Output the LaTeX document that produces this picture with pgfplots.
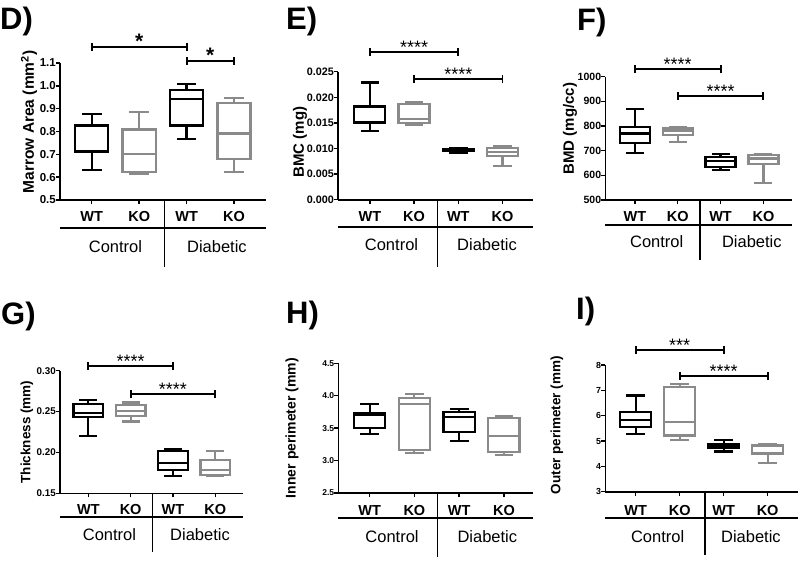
\documentclass[border=0pt]{standalone}
\usepackage{fontspec}
\setmainfont{Liberation Sans}
\usepackage{pgfplots}
\pgfplotsset{compat=1.18}
\definecolor{gbox}{RGB}{138,138,138}

\pgfplotsset{
 panel/.style={scale only axis, axis x line*=bottom, axis y line*=left,
   axis line style={line width=1.6pt, black},
   tick style={line width=1.4pt, black},
   major tick length=4pt, tick align=outside,
   xtick={0,1,2,3}, xticklabels={WT,KO,WT,KO},
   xticklabel style={font=\bfseries\fontsize{14.5}{14.5}\selectfont, anchor=center, inner sep=0pt},
   yticklabel style={anchor=east, inner sep=0pt},
   clip=false, anchor=south west},
 bx/.style={black, line width=2.2pt, line cap=rect, line join=miter, mark=none},
 bg/.style={gbox, line width=2.2pt, line cap=rect, line join=miter, mark=none},
 sb/.style={black, line width=1.9pt, mark=none},
}

% box: style, position, lower whisker, lower quartile, median, upper quartile, upper whisker
\newcommand{\bplot}[7]{%
 \pgfmathsetmacro{\bl}{#2-0.35}\pgfmathsetmacro{\br}{#2+0.35}%
 \pgfmathsetmacro{\wl}{#2-0.185}\pgfmathsetmacro{\wr}{#2+0.185}%
 \addplot[#1] coordinates {(\bl,#4) (\br,#4) (\br,#6) (\bl,#6) (\bl,#4)};
 \addplot[#1] coordinates {(\bl,#5) (\br,#5)};
 \addplot[#1] coordinates {(#2,#6) (#2,#7)};
 \addplot[#1] coordinates {(#2,#4) (#2,#3)};
 \addplot[#1] coordinates {(\wl,#7) (\wr,#7)};
 \addplot[#1] coordinates {(\wl,#3) (\wr,#3)};
}
% significance bar: x1, x2, y, cap half height (data units), label x, text, font
\newcommand{\sig}[7]{%
 \pgfmathsetmacro{\ca}{#3-#4}\pgfmathsetmacro{\cb}{#3+#4}%
 \addplot[sb] coordinates {(#1,#3) (#2,#3)};
 \addplot[sb] coordinates {(#1,\ca) (#1,\cb)};
 \addplot[sb] coordinates {(#2,\ca) (#2,\cb)};
 \node[anchor=base, inner sep=0pt, font=#7, yshift=-1.5pt] at (axis cs:#5,#3) {#6};
}
% separator, group line, group names
\newcommand{\bottom}[7]{%
 \draw[line width=1.6pt] (axis cs:#2,#1) -- ([yshift=-#5pt]axis cs:#2,#1);
 \draw[line width=1.6pt] ([yshift=-#3pt]rel axis cs:0,0) -- ([yshift=-#3pt]rel axis cs:1,0);
 \node[font=\fontsize{16.5}{16.5}\selectfont] at ([yshift=-#4pt]axis cs:#6,#1) {Control};
 \node[font=\fontsize{16.5}{16.5}\selectfont] at ([yshift=-#4pt]axis cs:#7,#1) {Diabetic};
}
\newcommand{\starfont}{\fontsize{18}{18}\selectfont}
\newcommand{\bigstar}{\bfseries\fontsize{21}{21}\selectfont}
\newcommand{\plabel}{\bfseries\fontsize{31}{31}\selectfont}

\begin{document}
\begin{tikzpicture}

% ---------- D ----------
\begin{axis}[panel, at={(60pt,-200pt)}, width=206pt, height=137pt,
  xmin=-0.67, xmax=3.675, ymin=0.5, ymax=1.1,
  ytick={0.5,0.6,0.7,0.8,0.9,1.0,1.1}, yticklabels={0.5,0.6,0.7,0.8,0.9,1.0,1.1},
  yticklabel style={font=\bfseries\fontsize{11.5}{11.5}\selectfont},
  xticklabel style={yshift=-13pt}]
\bplot{bx}{0}{0.630}{0.712}{0.823}{0.826}{0.876}
\bplot{bg}{1}{0.616}{0.621}{0.703}{0.809}{0.885}
\bplot{bx}{2}{0.766}{0.826}{0.944}{0.982}{1.008}
\bplot{bg}{3}{0.621}{0.679}{0.791}{0.926}{0.948}
\sig{0}{2}{1.17}{0.0175}{1}{*}{\bigstar}
\sig{2}{3}{1.109}{0.0175}{2.5}{*}{\bigstar}
\bottom{0.5}{1.53}{28}{47}{67}{0.5}{2.64}
\end{axis}

% ---------- E (values in units of 0.001 mg) ----------
\begin{axis}[panel, at={(338pt,-199.7pt)}, width=195pt, height=128pt,
  xmin=-0.72, xmax=3.69, ymin=0, ymax=25,
  ytick={0,5,10,15,20,25}, yticklabels={0.000,0.005,0.010,0.015,0.020,0.025},
  yticklabel style={font=\bfseries\fontsize{10.8}{10.8}\selectfont},
  xticklabel style={yshift=-13.3pt}]
\bplot{bx}{0}{13.4}{15.0}{15.2}{18.2}{22.9}
\bplot{bg}{1}{14.65}{15.0}{15.75}{18.7}{19.1}
\bplot{bx}{2}{9.2}{9.6}{9.8}{9.9}{10.0}
\bplot{bg}{3}{6.64}{8.53}{9.3}{10.16}{10.55}
\sig{0}{2}{28.8}{0.78}{1}{****}{\starfont}
\sig{1}{3}{23.5}{0.78}{2}{****}{\starfont}
\bottom{0}{1.53}{27.3}{45.3}{67}{0.49}{2.65}
\end{axis}

% ---------- F ----------
\begin{axis}[panel, at={(605.3pt,-200pt)}, width=186.4pt, height=123.3pt,
  xmin=-0.69, xmax=3.66, ymin=500, ymax=1000,
  ytick={500,600,700,800,900,1000}, yticklabels={500,600,700,800,900,1000},
  yticklabel style={font=\bfseries\fontsize{10.5}{10.5}\selectfont},
  xticklabel style={yshift=-13pt}]
\bplot{bx}{0}{692}{730}{770}{797}{868}
\bplot{bg}{1}{734}{762}{780}{790}{796}
\bplot{bx}{2}{622}{635}{659}{676}{688}
\bplot{bg}{3}{570}{647}{668}{682}{688}
\sig{0}{2}{1031}{16.2}{1}{****}{\starfont}
\sig{1}{3}{922}{16.2}{2}{****}{\starfont}
\bottom{500}{1.52}{25}{42}{60}{0.51}{2.73}
\end{axis}

% ---------- G ----------
\begin{axis}[panel, at={(60pt,-493.3pt)}, width=182.7pt, height=122.6pt,
  xmin=-0.67, xmax=3.65, ymin=0.15, ymax=0.30,
  ytick={0.15,0.20,0.25,0.30}, yticklabels={0.15,0.20,0.25,0.30},
  yticklabel style={font=\bfseries\fontsize{9.8}{9.8}\selectfont},
  xticklabel style={yshift=-12pt}]
\bplot{bx}{0}{0.2203}{0.2431}{0.2480}{0.2593}{0.2642}
\bplot{bg}{1}{0.2378}{0.2443}{0.2508}{0.2577}{0.2610}
\bplot{bx}{2}{0.1707}{0.1789}{0.1874}{0.2016}{0.2045}
\bplot{bg}{3}{0.1715}{0.1728}{0.1789}{0.1906}{0.2020}
\sig{0}{2}{0.3057}{0.0049}{1}{****}{\starfont}
\sig{1}{3}{0.2712}{0.0049}{2}{****}{\starfont}
\bottom{0.15}{1.52}{23.4}{41.7}{58.4}{0.5}{2.64}
\end{axis}

% ---------- H ----------
\begin{axis}[panel, at={(338.3pt,-493pt)}, width=194.7pt, height=129.7pt,
  xmin=-0.70, xmax=3.65, ymin=2.5, ymax=4.5,
  ytick={2.5,3.0,3.5,4.0,4.5}, yticklabels={2.5,3.0,3.5,4.0,4.5},
  yticklabel style={font=\bfseries\fontsize{8.5}{8.5}\selectfont},
  xticklabel style={yshift=-13.7pt}]
\bplot{bx}{0}{3.410}{3.508}{3.703}{3.739}{3.868}
\bplot{bg}{1}{3.122}{3.163}{3.868}{3.970}{4.022}
\bplot{bx}{2}{3.307}{3.441}{3.672}{3.744}{3.801}
\bplot{bg}{3}{3.081}{3.137}{3.384}{3.662}{3.688}
\bottom{2.5}{1.52}{24.7}{43.7}{63.7}{0.5}{2.63}
\end{axis}

% ---------- I ----------
\begin{axis}[panel, at={(605.3pt,-491.7pt)}, width=192.7pt, height=126.7pt,
  xmin=-0.69, xmax=3.69, ymin=3, ymax=8,
  ytick={3,4,5,6,7,8}, yticklabels={3,4,5,6,7,8},
  yticklabel style={font=\bfseries\fontsize{8.8}{8.8}\selectfont},
  xticklabel style={yshift=-15pt}]
\bplot{bx}{0}{5.28}{5.54}{5.84}{6.13}{6.80}
\bplot{bg}{1}{5.04}{5.22}{5.76}{7.14}{7.26}
\bplot{bx}{2}{4.59}{4.71}{4.82}{4.89}{5.03}
\bplot{bg}{3}{4.14}{4.49}{4.53}{4.82}{4.89}
\sig{0}{2}{8.59}{0.158}{1}{***}{\starfont}
\sig{1}{3}{7.58}{0.158}{2}{****}{\starfont}
\bottom{3}{1.57}{26}{45}{63.3}{0.5}{2.62}
\end{axis}

% ---------- panel letters and y labels ----------
\begin{scope}[every node/.style={inner sep=0pt}]
\node[anchor=base west, font=\plabel] at (0pt,-29pt) {D)};
\node[anchor=base west, font=\plabel] at (286pt,-29pt) {E)};
\node[anchor=base west, font=\plabel] at (577pt,-30pt) {F)};
\node[anchor=base west, font=\plabel] at (1pt,-324pt) {G)};
\node[anchor=base west, font=\plabel] at (286pt,-323pt) {H)};
\node[anchor=base west, font=\plabel] at (576pt,-319pt) {I)};
\node[rotate=90, font=\bfseries\fontsize{15.5}{15.5}\selectfont] at (29pt,-122pt) {Marrow Area (mm\textsuperscript{2})};
\node[rotate=90, font=\bfseries\fontsize{15}{15}\selectfont] at (300pt,-142pt) {BMC (mg)};
\node[rotate=90, font=\bfseries\fontsize{15}{15}\selectfont] at (570pt,-128.5pt) {BMD (mg/cc)};
\node[rotate=90, font=\bfseries\fontsize{13.5}{13.5}\selectfont] at (27pt,-432pt) {Thickness (mm)};
\node[rotate=90, font=\bfseries\fontsize{14}{14}\selectfont] at (292pt,-428pt) {Inner perimeter (mm)};
\node[rotate=90, font=\bfseries\fontsize{13.5}{13.5}\selectfont] at (557pt,-425pt) {Outer perimeter (mm)};
\end{scope}

\pgfresetboundingbox
\path[use as bounding box] (0pt,0pt) rectangle (800pt,-560pt);
\end{tikzpicture}
\end{document}
